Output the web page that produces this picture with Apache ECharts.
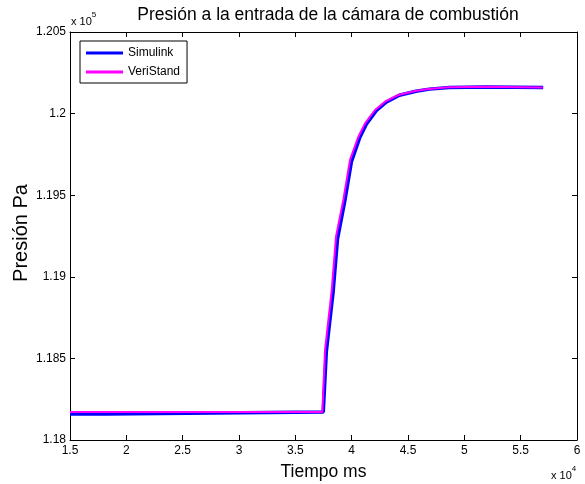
<!DOCTYPE html>
<html>
<head>
<meta charset="utf-8">
<script src="https://cdn.jsdelivr.net/npm/echarts@6/dist/echarts.min.js"></script>
<style>
  html, body { margin: 0; padding: 0; background: #fff; }
  #chart { width: 585px; height: 484px; }
</style>
</head>
<body>
<div id="chart"></div>
<script>
// Time (ms) and pressure (Pa) samples for each source
var simulinkTime = [15000, 18100, 18100, 37480, 37750, 38350, 38740, 39380, 39980, 40700, 41300, 42180, 43060, 44230, 45700, 46900, 48650, 51900, 57000];
var simulinkPres = [118160, 118160, 118172, 118172, 118540, 118905, 119230, 119460, 119705, 119850, 119935, 120018, 120070, 120112, 120137, 120150, 120160, 120163, 120160];

var veristandTime = [15000, 37395, 37635, 38229, 38610, 39258, 39853, 40590, 41185, 42072, 42960, 44140, 45622, 46803, 48578, 51835, 56960];
var veristandPres = [118172, 118172, 118551, 118919, 119246, 119471, 119716, 119858, 119940, 120022, 120073, 120114, 120138, 120151, 120161, 120164, 120160];

// Axis ranges and tick steps
var xMin = 15000, xMax = 60000, xStep = 5000;
var yMin = 118000, yMax = 120500, yStep = 500;

var seriesNames = ['Simulink', 'VeriStand'];
var titleText = 'Presión a la entrada de la cámara de combustión';
var xName = 'Tiempo ms';
var yName = 'Presión Pa';

function pairs(t, p) {
  return t.map(function (v, i) { return [v, p[i]]; });
}

var FONT = '"Liberation Sans", Arial, sans-serif';
var chart = echarts.init(document.getElementById('chart'), null, { renderer: 'canvas' });

var gridL = 70, gridR = 8, gridT = 32, gridB = 44;

var baseAxisLine = { show: true, lineStyle: { color: '#000', width: 1 } };
var tickIn = { show: true, inside: true, length: 5, lineStyle: { color: '#000', width: 1 } };

function fmtX(v) { return String(+(v / 10000).toFixed(2)); }
function fmtY(v) { return String(+(v / 100000).toFixed(4)); }

chart.setOption({
  animation: false,
  backgroundColor: '#fff',
  title: {
    text: titleText,
    left: 323, top: 1, textAlign: 'center',
    textStyle: { fontFamily: FONT, fontSize: 17.5, fontWeight: 'normal', color: '#000' }
  },
  grid: {
    left: gridL, right: gridR, top: gridT, bottom: gridB,
    containLabel: false, outerBoundsMode: 'none'
  },
  xAxis: [{
    type: 'value', min: xMin, max: xMax, interval: xStep, position: 'bottom',
    axisLine: baseAxisLine, axisTick: tickIn, splitLine: { show: false },
    axisLabel: { fontFamily: FONT, fontSize: 12, color: '#000', margin: 5, formatter: fmtX },
    name: xName, nameLocation: 'middle', nameGap: 23,
    nameTextStyle: { fontFamily: FONT, fontSize: 17.5, color: '#000' }
  }, {
    type: 'value', min: xMin, max: xMax, interval: xStep, position: 'top',
    axisLine: baseAxisLine, axisTick: tickIn, splitLine: { show: false },
    axisLabel: { show: false }
  }],
  yAxis: [{
    type: 'value', min: yMin, max: yMax, interval: yStep, position: 'left',
    axisLine: baseAxisLine, axisTick: tickIn, splitLine: { show: false },
    axisLabel: { fontFamily: FONT, fontSize: 12, color: '#000', margin: 4, formatter: fmtY }
  }, {
    type: 'value', min: yMin, max: yMax, interval: yStep, position: 'right',
    axisLine: baseAxisLine, axisTick: tickIn, splitLine: { show: false },
    axisLabel: { show: false }
  }],
  legend: {
    left: 80, top: 41, orient: 'vertical',
    itemWidth: 37, itemHeight: 3, itemGap: 7,
    padding: [6, 7, 5, 6],
    borderColor: '#000', borderWidth: 1, backgroundColor: '#fff',
    icon: 'rect',
    textStyle: { fontFamily: FONT, fontSize: 12, color: '#000', padding: [0, 0, 0, 0] },
    data: seriesNames
  },
  series: [{
    name: seriesNames[0], type: 'line', showSymbol: false, symbol: 'none',
    data: pairs(simulinkTime, simulinkPres),
    lineStyle: { color: '#0000ff', width: 3.5 }, itemStyle: { color: '#0000ff' }, z: 2
  }, {
    name: seriesNames[1], type: 'line', showSymbol: false, symbol: 'none',
    data: pairs(veristandTime, veristandPres),
    lineStyle: { color: '#ff00ff', width: 2 }, itemStyle: { color: '#ff00ff' }, z: 3
  }],
  graphic: [{
    // rotated y-axis title
    type: 'text', x: 21, y: 233, rotation: Math.PI / 2,
    style: {
      text: yName, fontFamily: FONT, fontSize: 20, fill: '#000',
      align: 'center', verticalAlign: 'middle'
    }
  }, {
    type: 'text', left: 71, top: 11,
    style: {
      text: '{b|x 10}{s|5}',
      rich: {
        b: { fontFamily: FONT, fontSize: 11, fill: '#000', verticalAlign: 'bottom' },
        s: { fontFamily: FONT, fontSize: 8, fill: '#000', padding: [0, 0, 8, 0] }
      }
    }
  }, {
    type: 'text', left: 551, top: 465,
    style: {
      text: '{b|x 10}{s|4}',
      rich: {
        b: { fontFamily: FONT, fontSize: 11, fill: '#000', verticalAlign: 'bottom' },
        s: { fontFamily: FONT, fontSize: 8, fill: '#000', padding: [0, 0, 8, 0] }
      }
    }
  }]
});
</script>
</body>
</html>
